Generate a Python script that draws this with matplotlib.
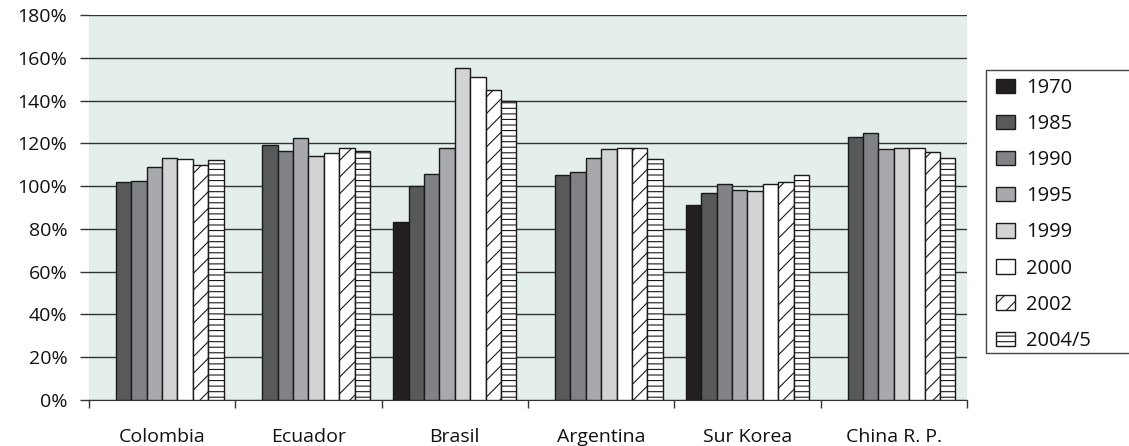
import numpy as np
import matplotlib.pyplot as plt
from matplotlib.patches import Rectangle
from matplotlib.ticker import FuncFormatter

plt.rcParams['font.family'] = ['Open Sans', 'DejaVu Sans']
plt.rcParams['hatch.linewidth'] = 0.8

countries = ["Colombia", "Ecuador", "Brasil", "Argentina", "Sur Korea", "China R. P."]
years = ["1970", "1985", "1990", "1995", "1999", "2000", "2002", "2004/5"]

# values in % per year, one list per year (nan = no data)
v1970 = [np.nan, np.nan, 83, np.nan, 91, np.nan]
v1985 = [102, 119, 100, 105, 97, 123]
v1990 = [102.5, 116.5, 105.5, 106.5, 101, 125]
v1995 = [109, 122.5, 118, 113, 98, 117.5]
v1999 = [113, 114, 155, 117.5, 97.5, 118]
v2000 = [112.5, 115.5, 151, 118, 101, 118]
v2002 = [110, 118, 145, 118, 102, 116]
v2004 = [112, 116.5, 140, 112.5, 105, 113]
series = [v1970, v1985, v1990, v1995, v1999, v2000, v2002, v2004]

fills = ["#231f20", "#58595b", "#808285", "#a7a9ac", "#d1d3d4", "white", "white", "white"]
hatches = [None, None, None, None, None, None, "//", "---"]

fig = plt.figure(figsize=(11.29, 4.46), dpi=100)
ax = fig.add_axes([0.0788, 0.1031, 0.7777, 0.8633])
ax.set_facecolor("#e4eeea")

x = np.arange(len(countries))
w = 0.105
for i, (vals, col, h) in enumerate(zip(series, fills, hatches)):
    off = (i - 3.5) * w
    ax.bar(x + off, vals, w, color=col, edgecolor="#1a1a1a", linewidth=1.0,
           hatch=h, label=years[i], zorder=3)

ax.set_ylim(0, 180)
ax.set_xlim(-0.5, len(countries) - 0.5)
ax.set_yticks(range(0, 181, 20))
ax.yaxis.set_major_formatter(FuncFormatter(lambda v, p: f"{int(v)}%"))
ax.grid(axis="y", color="#333333", linewidth=1.0, zorder=1)
ax.tick_params(axis="y", length=6.5, width=1.0, color="#333333", labelsize=14,
               labelcolor="#111111", pad=9)

ax.set_xticks(x)
ax.set_xticklabels(countries, fontsize=14, color="#111111")
ax.set_xticks(np.arange(-0.5, len(countries)), minor=True)
ax.tick_params(axis="x", which="major", length=0, pad=20)
ax.tick_params(axis="x", which="minor", length=6, width=1.0, color="#333333")

for s in ["top", "right", "left"]:
    ax.spines[s].set_visible(False)
ax.spines["bottom"].set_color("#333333")

# legend: frame drawn separately, it runs off the right edge like the original
leg = fig.legend(loc="upper left", bbox_to_anchor=(996 / 1129, 1 - 78 / 446),
                 frameon=False, fontsize=14.5, labelcolor="#111111",
                 handlelength=0.95, handleheight=0.72, handletextpad=0.55,
                 labelspacing=0.8, borderpad=0, borderaxespad=0)
fig.patches.append(Rectangle((986 / 1129, 1 - 353 / 446), 0.2, 283 / 446,
                             transform=fig.transFigure, fill=False,
                             edgecolor="#444444", linewidth=1.0))

plt.savefig("out.png", dpi=100)
